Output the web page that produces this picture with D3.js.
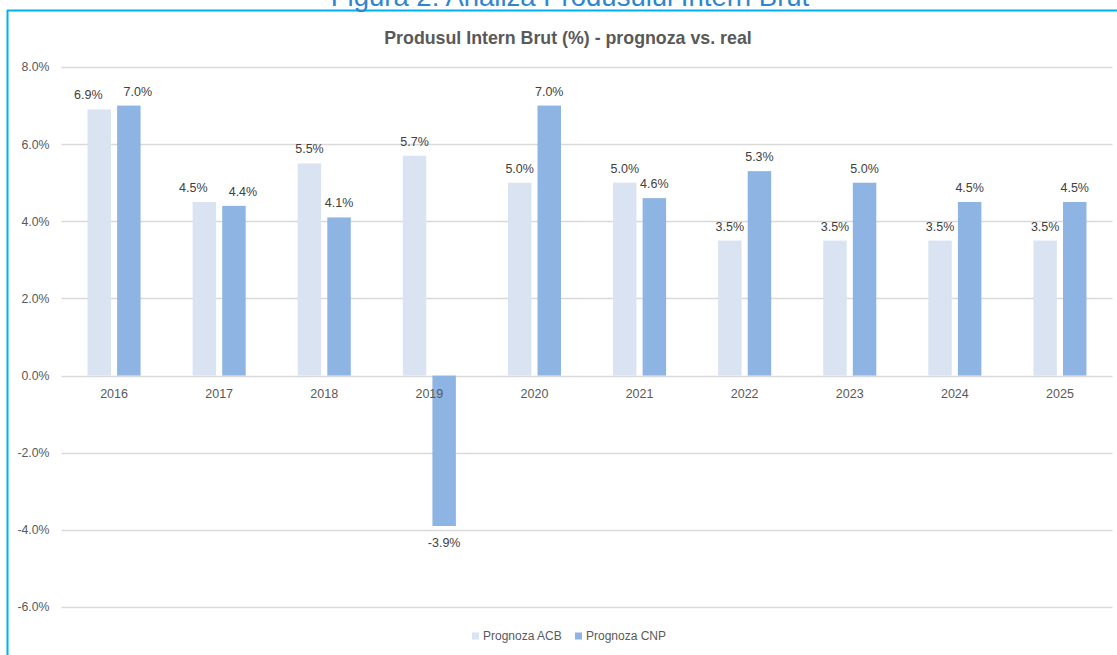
<!DOCTYPE html>
<html>
<head>
<meta charset="utf-8">
<script src="https://cdn.jsdelivr.net/npm/d3@7"></script>
<style>
  html, body { margin: 0; padding: 0; background: #fff; }
  svg { display: block; }
  text { font-family: "Liberation Sans", Arial, sans-serif; }
</style>
</head>
<body>
<svg id="chart" width="1117" height="655"></svg>
<script>
// Produsul Intern Brut: prognoza ACB vs. prognoza CNP
const years = ["2016", "2017", "2018", "2019", "2020", "2021", "2022", "2023", "2024", "2025"];
const prognozaACB = [6.9, 4.5, 5.5, 5.7, 5.0, 5.0, 3.5, 3.5, 3.5, 3.5];
const prognozaCNP = [7.0, 4.4, 4.1, -3.9, 7.0, 4.6, 5.3, 5.0, 4.5, 4.5];
const seriesNames = ["Prognoza ACB", "Prognoza CNP"];
const yTicks = [-6, -4, -2, 0, 2, 4, 6, 8];

const colors = { "Prognoza ACB": "#DAE3F1", "Prognoza CNP": "#8EB4E3" };
const textColor = "#595959";
const labelColor = "#404040";

// percent with one decimal and a plain hyphen for negatives
const pct = d3.formatLocale({ decimal: ".", thousands: ",", grouping: [3], currency: ["", ""], minus: "-" })
  .format(".1f");
const fmt = v => pct(v) + "%";

const svg = d3.select("#chart");
const W = 1117, H = 655;
const plot = { left: 61.5, right: 1112.5, top: 67, bottom: 607 };

// outer frame of the figure
svg.append("line").attr("x1", 7).attr("x2", W + 5).attr("y1", 10.5).attr("y2", 10.5)
  .attr("stroke", "#00B0F0").attr("stroke-width", 2);
svg.append("line").attr("x1", 7.5).attr("x2", 7.5).attr("y1", 10).attr("y2", H + 5)
  .attr("stroke", "#00B0F0").attr("stroke-width", 2);

// figure caption (partly above the frame)
svg.append("text").attr("x", 570).attr("y", 6).attr("text-anchor", "middle")
  .attr("font-size", 27.5).attr("fill", "#2F86D0")
  .text("Figura 2: Analiza Produsului Intern Brut");

// chart title
svg.append("text").attr("x", 568).attr("y", 44).attr("text-anchor", "middle")
  .attr("font-size", 17.8).attr("font-weight", "bold").attr("fill", textColor)
  .text("Produsul Intern Brut (%) - prognoza vs. real");

const y = d3.scaleLinear().domain([-6, 8]).range([plot.bottom, plot.top]);
const x = d3.scaleBand().domain(years).range([plot.left, plot.right])
  .paddingInner(0.495).paddingOuter(0.2475);
const xs = d3.scaleBand().domain(seriesNames).range([0, x.bandwidth()]).paddingInner(0.207);

// gridlines
svg.append("g").selectAll("line").data(yTicks).join("line")
  .attr("x1", plot.left).attr("x2", plot.right)
  .attr("y1", d => Math.round(y(d)) + 0.5).attr("y2", d => Math.round(y(d)) + 0.5)
  .attr("stroke", "#D9D9D9").attr("stroke-width", 1.3);

// y axis labels
const yAxis = d3.axisLeft(y).tickValues(yTicks).tickSize(0).tickPadding(0).tickFormat(fmt);
svg.append("g").attr("transform", `translate(${plot.left - 12},0)`).call(yAxis)
  .call(g => g.select(".domain").remove())
  .call(g => g.selectAll("text").attr("font-size", 12.3).attr("fill", textColor)
    .attr("font-family", "Liberation Sans, Arial, sans-serif"));

const rows = years.map((yr, i) => ({ year: yr, values: [
  { name: seriesNames[0], value: prognozaACB[i] },
  { name: seriesNames[1], value: prognozaCNP[i] }
]}));

const groups = svg.append("g").selectAll("g").data(rows).join("g")
  .attr("transform", d => `translate(${x(d.year)},0)`);

groups.selectAll("rect").data(d => d.values).join("rect")
  .attr("x", d => xs(d.name))
  .attr("width", xs.bandwidth())
  .attr("y", d => y(Math.max(0, d.value)))
  .attr("height", d => Math.abs(y(d.value) - y(0)))
  .attr("fill", d => colors[d.name]);

// x axis (category labels below the zero line)
const xAxis = d3.axisBottom(x).tickSize(0).tickPadding(0);
svg.append("g").attr("transform", `translate(0,${y(0) + 14})`).call(xAxis)
  .call(g => g.select(".domain").remove())
  .call(g => g.selectAll("text").attr("font-size", 12.5).attr("fill", textColor)
    .attr("font-family", "Liberation Sans, Arial, sans-serif"));

// value labels; spread apart a pair whose labels sit at nearly the same height
groups.each(function(d) {
  const g = d3.select(this);
  const [a, b] = d.values;
  const close = a.value > 0 && b.value > 0 && Math.abs(y(a.value) - y(b.value)) < 8;
  d.values.forEach((v, k) => {
    const cx = xs(v.name) + xs.bandwidth() / 2 + (close ? (k === 0 ? -11 : 9) : 0);
    const ty = v.value >= 0 ? y(v.value) - 10 : y(v.value) + 21;
    g.append("text").attr("x", cx).attr("y", ty).attr("text-anchor", "middle")
      .attr("font-size", 12.5).attr("fill", labelColor)
      .text(fmt(v.value));
  });
});

// legend
const legend = svg.append("g").attr("transform", "translate(472,636)");
const legendX = [0, 103];
seriesNames.forEach((name, i) => {
  const lg = legend.append("g").attr("transform", `translate(${legendX[i]},0)`);
  lg.append("rect").attr("x", 0).attr("y", -3.5).attr("width", 7).attr("height", 7)
    .attr("fill", colors[name]);
  lg.append("text").attr("x", 11).attr("y", 4).attr("font-size", 12)
    .attr("fill", textColor).text(name);
});
</script>
</body>
</html>
